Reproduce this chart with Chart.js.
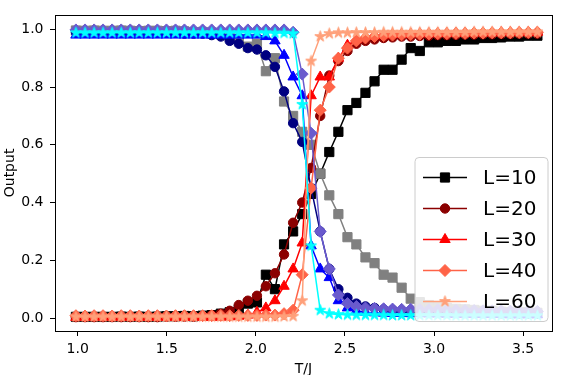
<!DOCTYPE html>
<html><head><meta charset="utf-8">
<script src="https://cdn.jsdelivr.net/npm/chart.js@4/dist/chart.umd.min.js"></script>
<style>html,body{margin:0;padding:0;background:#fff;}#wrap{width:561px;height:375px;}</style>
</head><body><div id="wrap"><canvas id="c" width="561" height="375"></canvas></div>
<script>
// ---- data ----
const T = [0.990,1.041,1.092,1.142,1.193,1.244,1.295,1.345,1.396,1.447,1.498,1.549,1.599,1.650,1.701,1.752,1.803,1.853,1.904,1.955,2.006,2.056,2.107,2.158,2.209,2.260,2.310,2.361,2.412,2.463,2.514,2.564,2.615,2.666,2.717,2.767,2.818,2.869,2.920,2.971,3.021,3.072,3.123,3.174,3.225,3.275,3.326,3.377,3.428,3.478,3.529,3.580];
const xTicks = [1.0,1.5,2.0,2.5,3.0,3.5];
const yTicks = [0.0,0.2,0.4,0.6,0.8,1.0];
const legendLabels = ['L=10','L=20','L=30','L=40','L=60'];

const L10_up   = [0.004,0.004,0.004,0.004,0.004,0.005,0.004,0.005,0.004,0.005,0.006,0.006,0.007,0.006,0.008,0.010,0.015,0.020,0.030,0.050,0.054,0.150,0.100,0.255,0.300,0.360,0.430,0.500,0.575,0.645,0.720,0.745,0.780,0.820,0.860,0.860,0.895,0.935,0.925,0.955,0.955,0.960,0.960,0.965,0.965,0.970,0.970,0.972,0.975,0.975,0.978,0.978];
const L10_down = [0.996,0.995,0.996,0.995,0.995,0.996,0.995,0.994,0.995,0.995,0.994,0.995,0.993,0.990,0.991,0.989,0.985,0.975,0.965,0.940,0.950,0.855,0.900,0.750,0.700,0.645,0.600,0.500,0.425,0.360,0.280,0.255,0.210,0.190,0.150,0.140,0.105,0.067,0.055,0.045,0.040,0.035,0.032,0.030,0.028,0.025,0.025,0.022,0.020,0.020,0.020,0.018];
const L20_up   = [0.003,0.003,0.003,0.003,0.003,0.003,0.003,0.003,0.003,0.003,0.005,0.005,0.005,0.005,0.007,0.010,0.015,0.025,0.045,0.060,0.077,0.110,0.155,0.220,0.330,0.400,0.520,0.700,0.840,0.890,0.925,0.950,0.960,0.965,0.970,0.972,0.975,0.975,0.977,0.978,0.980,0.980,0.981,0.982,0.982,0.983,0.983,0.984,0.984,0.985,0.985,0.985];
const L20_down = [0.990,0.990,0.990,0.990,0.990,0.990,0.990,0.990,0.990,0.990,0.990,0.990,0.985,0.985,0.985,0.980,0.975,0.960,0.950,0.935,0.930,0.910,0.870,0.785,0.675,0.610,0.450,0.300,0.170,0.100,0.070,0.050,0.040,0.035,0.030,0.028,0.025,0.023,0.022,0.021,0.020,0.020,0.019,0.018,0.018,0.017,0.017,0.016,0.016,0.015,0.015,0.015];
const L30_up   = [0.002,0.002,0.002,0.002,0.002,0.002,0.002,0.002,0.002,0.002,0.002,0.002,0.002,0.002,0.002,0.002,0.003,0.004,0.006,0.010,0.020,0.035,0.060,0.110,0.170,0.260,0.770,0.835,0.835,0.900,0.945,0.965,0.975,0.978,0.980,0.982,0.983,0.984,0.985,0.985,0.986,0.986,0.987,0.987,0.988,0.988,0.988,0.989,0.989,0.989,0.990,0.990];
const L30_down = [0.980,0.980,0.980,0.980,0.980,0.980,0.980,0.980,0.980,0.980,0.980,0.980,0.980,0.980,0.980,0.980,0.980,0.980,0.980,0.980,0.980,0.975,0.960,0.910,0.835,0.770,0.250,0.170,0.140,0.060,0.035,0.025,0.020,0.018,0.017,0.016,0.016,0.015,0.015,0.014,0.014,0.013,0.013,0.013,0.012,0.012,0.012,0.012,0.011,0.011,0.011,0.011];
const L40_up   = [0.008,0.007,0.008,0.008,0.007,0.008,0.008,0.007,0.008,0.008,0.007,0.008,0.008,0.008,0.008,0.008,0.009,0.008,0.009,0.009,0.009,0.010,0.010,0.015,0.027,0.150,0.450,0.720,0.800,0.900,0.935,0.960,0.970,0.975,0.978,0.980,0.981,0.982,0.983,0.984,0.985,0.985,0.986,0.986,0.987,0.987,0.988,0.988,0.988,0.989,0.989,0.990];
const L40_down = [0.998,0.998,0.998,0.998,0.998,0.998,0.998,0.998,0.998,0.998,0.998,0.998,0.998,0.998,0.998,0.998,0.998,0.998,0.998,0.998,0.998,0.998,0.998,0.998,0.990,0.845,0.640,0.300,0.170,0.080,0.050,0.040,0.035,0.033,0.032,0.031,0.030,0.030,0.029,0.028,0.028,0.027,0.027,0.026,0.026,0.025,0.025,0.025,0.024,0.024,0.024,0.023];
const L60_up   = [0.004,0.004,0.004,0.004,0.004,0.004,0.004,0.004,0.004,0.004,0.004,0.004,0.004,0.004,0.004,0.004,0.004,0.004,0.004,0.004,0.004,0.004,0.004,0.005,0.006,0.060,0.890,0.975,0.985,0.988,0.988,0.989,0.989,0.989,0.990,0.990,0.990,0.990,0.990,0.990,0.990,0.990,0.990,0.990,0.991,0.991,0.991,0.991,0.991,0.991,0.991,0.991];
const L60_down = [0.988,0.988,0.988,0.988,0.988,0.988,0.988,0.988,0.988,0.988,0.988,0.988,0.988,0.988,0.988,0.988,0.988,0.988,0.988,0.988,0.988,0.988,0.987,0.987,0.985,0.740,0.250,0.027,0.015,0.012,0.011,0.010,0.010,0.010,0.010,0.009,0.009,0.009,0.009,0.009,0.009,0.009,0.008,0.008,0.008,0.008,0.008,0.008,0.008,0.008,0.008,0.008];

// ---- styles ----
function makeStar(color, r) {
  const s = Math.ceil(r * 2 + 3);
  const c = document.createElement('canvas');
  c.width = s; c.height = s;
  const g = c.getContext('2d');
  g.fillStyle = color; g.strokeStyle = color; g.lineWidth = 1; g.lineJoin = 'miter';
  g.beginPath();
  for (let k = 0; k < 10; k++) {
    const rr = (k % 2 === 0) ? r : r * 0.382;
    const a = -Math.PI / 2 + k * Math.PI / 5;
    const px = s / 2 + rr * Math.cos(a), py = s / 2 + rr * Math.sin(a);
    if (k === 0) g.moveTo(px, py); else g.lineTo(px, py);
  }
  g.closePath(); g.fill(); g.stroke();
  return c;
}

const series = [
  {data: L10_up,   color: '#000000', marker: 'rect',     r: 6.5, legend: 0},
  {data: L10_down, color: '#808080', marker: 'rect',     r: 6.5},
  {data: L20_up,   color: '#8b0000', marker: 'circle',   r: 4.7, legend: 1},
  {data: L20_down, color: '#000080', marker: 'circle',   r: 4.7},
  {data: L30_up,   color: '#ff0000', marker: 'triangle', r: 6.0, legend: 2},
  {data: L30_down, color: '#0000ff', marker: 'triangle', r: 6.0},
  {data: L40_up,   color: '#ff6347', marker: 'rectRot',  r: 6.0, legend: 3},
  {data: L40_down, color: '#6a5acd', marker: 'rectRot',  r: 6.0},
  {data: L60_up,   color: '#ffa07a', marker: 'star',     r: 5.8, legend: 4},
  {data: L60_down, color: '#00ffff', marker: 'star',     r: 5.8},
];

Chart.defaults.font.family = '"DejaVu Sans", sans-serif';
Chart.defaults.color = '#000';

const N = series.length;
const datasets = series.map((s, i) => {
  const ps = s.marker === 'star' ? makeStar(s.color, s.r) : s.marker;
  s.ps = ps;
  return {
    label: s.legend !== undefined ? legendLabels[s.legend] : '',
    data: T.map((t, j) => ({x: t, y: s.data[j]})),
    borderColor: s.color,
    backgroundColor: s.color,
    borderWidth: 1.5,
    pointStyle: ps,
    pointRadius: s.r,
    pointHoverRadius: s.r,
    pointBackgroundColor: s.color,
    pointBorderColor: s.color,
    pointBorderWidth: 1,
    tension: 0,
    fill: false,
    order: N - i
  };
});

function drawMarker(ctx, s, x, y) {
  ctx.save();
  ctx.fillStyle = s.color; ctx.strokeStyle = s.color; ctx.lineWidth = 1;
  if (typeof s.ps === 'object') {
    ctx.drawImage(s.ps, x - s.ps.width / 2, y - s.ps.height / 2);
  } else if (Chart.helpers && Chart.helpers.drawPoint) {
    Chart.helpers.drawPoint(ctx, {pointStyle: s.ps, radius: s.r, rotation: 0, borderWidth: 1}, x, y);
  } else {
    ctx.beginPath(); ctx.arc(x, y, s.r, 0, Math.PI * 2); ctx.fill();
  }
  ctx.restore();
}

const framePlugin = {
  id: 'frame',
  afterDatasetsDraw(chart) {
    const {ctx, chartArea: a} = chart;
    ctx.save();
    ctx.strokeStyle = '#000';
    ctx.lineWidth = 1;
    ctx.strokeRect(Math.round(a.left) + 0.5, Math.round(a.top) + 0.5, Math.round(a.right - a.left), Math.round(a.bottom - a.top));
    ctx.restore();
  }
};

const legendPlugin = {
  id: 'mplLegend',
  afterDraw(chart) {
    const {ctx, chartArea: a} = chart;
    const boxW = 133, boxH = 164, rowH = 31;
    const right = a.right - 4, bottom = a.bottom - 9.5;
    const left = right - boxW, top = bottom - boxH;
    ctx.save();
    ctx.beginPath();
    if (ctx.roundRect) ctx.roundRect(left, top, boxW, boxH, 4); else ctx.rect(left, top, boxW, boxH);
    ctx.fillStyle = 'rgba(255,255,255,0.8)';
    ctx.fill();
    ctx.strokeStyle = '#cccccc';
    ctx.lineWidth = 1;
    ctx.stroke();
    const items = series.filter(s => s.legend !== undefined);
    ctx.font = '20px "DejaVu Sans"';
    ctx.textBaseline = 'middle';
    ctx.textAlign = 'left';
    items.forEach((s, k) => {
      const y = top + 20 + k * rowH;
      ctx.beginPath();
      ctx.strokeStyle = s.color; ctx.lineWidth = 1.5;
      ctx.moveTo(left + 8, y); ctx.lineTo(left + 52, y); ctx.stroke();
      drawMarker(ctx, s, left + 30, y);
      ctx.fillStyle = '#000';
      ctx.fillText(legendLabels[s.legend], left + 68, y + 1);
    });
    ctx.restore();
  }
};

new Chart(document.getElementById('c'), {
  type: 'line',
  data: {datasets},
  options: {
    responsive: false,
    animation: false,
    devicePixelRatio: 1,
    events: [],
    layout: {padding: {top: 7, right: 9, left: 0, bottom: 0}},
    plugins: {legend: {display: false}, tooltip: {enabled: false}},
    scales: {
      x: {
        type: 'linear',
        min: 0.8725, max: 3.662,
        afterBuildTicks: (ax) => { ax.ticks = xTicks.map(v => ({value: v})); },
        afterFit: (ax) => { ax.height = 44; },
        ticks: {font: {size: 14}, color: '#000', padding: 5, maxRotation: 0, autoSkip: false, callback: v => Number(v).toFixed(1)},
        grid: {drawOnChartArea: false, drawTicks: true, tickLength: 5, color: '#000', lineWidth: 1},
        border: {display: false},
        title: {display: true, text: 'T/J', font: {size: 14, lineHeight: 1}, color: '#000', padding: {top: 0, bottom: -1}}
      },
      y: {
        type: 'linear',
        min: -0.045, max: 1.05,
        afterBuildTicks: (ax) => { ax.ticks = yTicks.map(v => ({value: v})); },
        afterFit: (ax) => { ax.width = 55; },
        ticks: {font: {size: 14}, color: '#000', padding: 6.5, autoSkip: false, callback: v => Number(v).toFixed(1)},
        grid: {drawOnChartArea: false, drawTicks: true, tickLength: 5, color: '#000', lineWidth: 1},
        border: {display: false},
        title: {display: true, text: 'Output', font: {size: 14, lineHeight: 1}, color: '#000', padding: {top: 3, bottom: 0}}
      }
    }
  },
  plugins: [framePlugin, legendPlugin]
});
</script>
</body></html>
